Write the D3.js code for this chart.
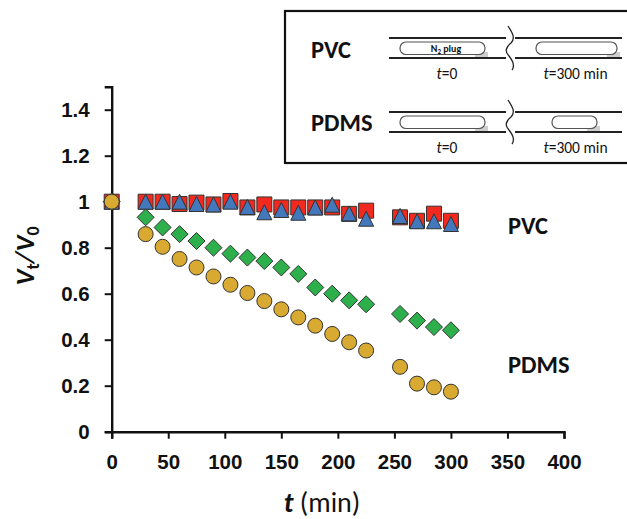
<!DOCTYPE html>
<html>
<head>
<meta charset="utf-8">
<script src="https://d3js.org/d3.v7.min.js"></script>
<style>
  body { margin: 0; background: #fff; overflow: hidden; }
  svg { display: block; font-family: Carlito, "Open Sans", "Noto Sans", sans-serif; }
  text { fill: #111; }
</style>
</head>
<body>
<svg id="chart" width="627" height="519"></svg>
<script>
const times = [0, 30, 45, 60, 75, 90, 105, 120, 135, 150, 165, 180, 195, 210, 225, 255, 270, 285, 300];
const pvcA = [1, 1, 1, .99, .996, .988, 1.003, .975, .988, .975, .975, .975, .975, .947, .961, .932, .917, .948, .917];
const pvcB = [1, 1, 1, 1, .99, .988, 1, .977, .954, .964, .952, .975, .987, .949, .926, .938, .915, .915, .903];
const pdmsA = [1, .932, .888, .859, .829, .8, .774, .757, .742, .714, .686, .627, .6, .571, .554, .512, .483, .455, .441];
const pdmsB = [1, .859, .804, .751, .714, .675, .639, .603, .568, .532, .497, .461, .425, .389, .353, .282, .209, .193, .174];
const xTicks = [0, 50, 100, 150, 200, 250, 300, 350, 400];
const yTicks = [0, .2, .4, .6, .8, 1, 1.2, 1.4];

const svg = d3.select('#chart');
const x = d3.scaleLinear().domain([0, 400]).range([111.7, 564]);
const y = d3.scaleLinear().domain([0, 1.5]).range([431.7, 86.7]);

// axes
const axisX = d3.axisBottom(x).tickValues(xTicks).tickSize(7).tickPadding(16).tickFormat(d3.format('d'));
const axisY = d3.axisLeft(y).tickValues(yTicks).tickSize(7).tickPadding(15).tickFormat(d => d);

const gx = svg.append('g').attr('transform', `translate(0,${y(0)})`).call(axisX);
const gy = svg.append('g').attr('transform', `translate(${x(0)},0)`).call(axisY);
[gx, gy].forEach(g => {
    g.select('.domain').attr('stroke', '#111').attr('stroke-width', 2.4);
    g.selectAll('.tick line').attr('stroke', '#111').attr('stroke-width', 2);
    g.selectAll('.tick text').attr('fill', '#111').style('font-size', '20.5px').style('font-weight', 700).style('font-family', 'inherit');
});

// markers, bbox centred triangle like the original
const triangle = { draw(c, s) { const r = Math.sqrt(s) / 2; c.moveTo(0, -r); c.lineTo(r, r); c.lineTo(-r, r); c.closePath(); } };
const square = { draw(c, s) { const r = Math.sqrt(s) / 2; c.rect(-r, -r, 2 * r, 2 * r); } };
const diamond = { draw(c, s) { const r = Math.sqrt(s) / 2; c.moveTo(0, -r); c.lineTo(r, 0); c.lineTo(0, r); c.lineTo(-r, 0); c.closePath(); } };
const series = [
    { values: pvcA, type: square, size: 15, fill: '#f1291f' },
    { values: pvcB, type: triangle, size: 15, fill: '#4478bd' },
    { values: pdmsA, type: diamond, size: 17, fill: '#2db04b' },
    { values: pdmsB, type: d3.symbolCircle, size: 177, fill: '#d8aa32' }
];
series.forEach(s => {
    svg.append('g').selectAll('path')
        .data(s.values)
        .join('path')
        .attr('transform', (d, i) => `translate(${x(times[i])},${y(d)})`)
        .attr('d', d3.symbol().type(s.type).size(s.type === d3.symbolCircle ? s.size : s.size * s.size))
        .attr('fill', s.fill)
        .attr('stroke', '#333')
        .attr('stroke-width', 1);
});

// series labels
svg.append('text').attr('x', 508).attr('y', 234).style('font-size', '24.5px').style('font-weight', 700).text('PVC');
svg.append('text').attr('x', 508).attr('y', 373).style('font-size', '24.5px').style('font-weight', 700).text('PDMS');

// axis titles
svg.append('text').attr('x', 322).attr('y', 512).attr('text-anchor', 'middle').style('font-size', '28px')
    .html('<tspan font-weight="700" font-style="italic">t</tspan> (min)');
svg.append('text').attr('transform', 'translate(34,256) rotate(-90)').attr('text-anchor', 'middle')
    .style('font-size', '27px').style('font-weight', 700).style('font-style', 'italic')
    .html('V<tspan dy="5" font-size="18" font-style="normal">t</tspan><tspan dy="-5">/V</tspan><tspan dy="5" font-size="18" font-style="normal">0</tspan>');

// inset, right side runs off the page
const inset = svg.append('g');
inset.append('rect').attr('x', 285).attr('y', 11).attr('width', 350).attr('height', 152)
    .attr('fill', '#fff').attr('stroke', '#111').attr('stroke-width', 2.2);

const tubes = [
    { name: 'PVC', top: 38, base: 20, end: [[400, 485], [536, 617]] },
    { name: 'PDMS', top: 112, base: 19, end: [[400, 485], [552, 597]] }
];
tubes.forEach(t => {
    const g = inset.append('g').attr('transform', `translate(0,${t.top})`);
    g.append('text').attr('x', 311).attr('y', t.base).style('font-size', '24.5px').style('font-weight', 700).text(t.name);
    [0, 20].forEach(dy => {
        g.append('line').attr('x1', 389).attr('x2', 506).attr('y1', dy).attr('y2', dy).attr('stroke', '#222').attr('stroke-width', 1.8);
        g.append('line').attr('x1', 515).attr('x2', 622).attr('y1', dy).attr('y2', dy).attr('stroke', '#222').attr('stroke-width', 1.8);
    });
    t.end.forEach(e => {
        g.append('rect').attr('x', e[1] - 10).attr('y', 14).attr('width', 13).attr('height', 5).attr('fill', '#cfcfcf');
        g.append('rect').attr('x', e[0]).attr('y', 4).attr('width', e[1] - e[0]).attr('height', 12.5).attr('rx', 6)
            .attr('fill', '#fff').attr('stroke', '#555').attr('stroke-width', 1.2);
    });
    g.append('path').attr('d', 'M508,-12 C512,-6 516,0 511,5 C505,10 505,14 509,18 C513,23 515,28 512,32')
        .attr('fill', 'none').attr('stroke', '#222').attr('stroke-width', 1.3);
    g.append('text').attr('x', 447).attr('y', 41).attr('text-anchor', 'middle').style('font-size', '15.5px')
        .html('<tspan font-style="italic">t</tspan>=0');
    g.append('text').attr('x', 575.5).attr('y', 41).attr('text-anchor', 'middle').style('font-size', '15.5px')
        .html('<tspan font-style="italic">t</tspan>=300 min');
});
inset.append('text').attr('x', 446).attr('y', 52).attr('text-anchor', 'middle').style('font-size', '10px').style('font-weight', 700)
    .html('N<tspan dy="1.5" font-size="7">2</tspan><tspan dy="-1.5"> plug</tspan>');
</script>
</body>
</html>
